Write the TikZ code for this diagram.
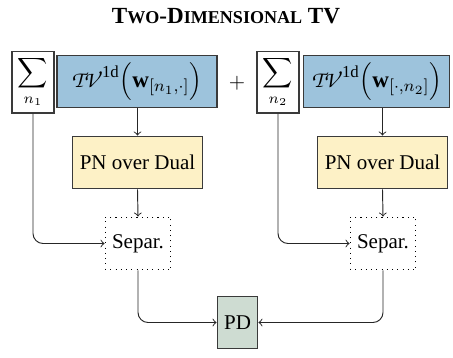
\documentclass[tikz,border=0pt]{standalone}
\usepackage{fontspec}
\setmainfont{Liberation Serif}
\DeclareMathAlphabet{\mathpzc}{OT1}{pzc}{m}{it}
\definecolor{blueF}{HTML}{9DC3DC}
\definecolor{yellowF}{HTML}{FDF1C6}
\definecolor{greenF}{HTML}{CEDCD2}
\definecolor{edgeC}{HTML}{3A3A3A}
\tikzset{
  box/.style={draw=edgeC, line width=0.5pt, minimum height=25.2pt, inner xsep=3.33pt, inner ysep=2pt},
  sumbox/.style={draw=edgeC, line width=0.5pt, minimum width=20pt, minimum height=29.5pt, inner sep=1pt},
  tvbox/.style={box, fill=blueF, inner xsep=4pt, font=\fontsize{10.95}{13}\selectfont},
  pnbox/.style={box, fill=yellowF},
  sepbox/.style={box, draw=black, dotted, line width=0.5pt},
  pdbox/.style={box, fill=greenF},
  conn/.style={draw=black!85, line width=0.45pt, ->, rounded corners=4.8pt}
}
\begin{document}
\begin{tikzpicture}[x=0.4762pt, y=-0.4762pt]
\useasboundingbox (0,0) rectangle (453,357);
\node (title) at (226,16) {\fontsize{11}{13}\selectfont\bfseries T{\fontsize{8.6}{10}\selectfont WO}-D{\fontsize{8.6}{10}\selectfont IMENSIONAL} TV};
\node[sumbox] (s1) at (33,82) {$\displaystyle\sum_{n_1}$};
\node[tvbox, minimum width=76.2pt] (b1) at (137,81.5) {$\mathpzc{TV}^{\mathrm{1d}}\Bigl(\mathbf{w}_{[n_1,\cdot]}\Bigr)$};
\node (plus) at (237,83) {$+$};
\node[sumbox] (s2) at (278,82) {$\displaystyle\sum_{n_2}$};
\node[tvbox, anchor=west, text width=61.5pt, align=left] (b2) at (303,81.5) {\makebox[0pt][l]{$\mathpzc{TV}^{\mathrm{1d}}\Bigl(\mathbf{w}_{[\cdot,n_2]}\Bigr)$}};
\node[pnbox] (pn1) at (137.5,162.5) {PN over Dual};
\node[pnbox] (pn2) at (382.5,162.5) {PN over Dual};
\node[sepbox] (sp1) at (138,243.5) {Separ.};
\node[sepbox] (sp2) at (383,243.5) {Separ.};
\node[pdbox] (pd) at (237.5,322.5) {PD};
\draw[conn] (b1.south -| pn1.north) -- (pn1.north);
\draw[conn] (b2.south -| pn2.north) -- (pn2.north);
\draw[conn] (pn1.south) -- (sp1.north);
\draw[conn] (pn2.south) -- (sp2.north);
\draw[conn] (s1.south) |- (sp1.west);
\draw[conn] (s2.south) |- (sp2.west);
\draw[conn] (sp1.south) |- (pd.west);
\draw[conn] (sp2.south) |- (pd.east);
\end{tikzpicture}
\end{document}
